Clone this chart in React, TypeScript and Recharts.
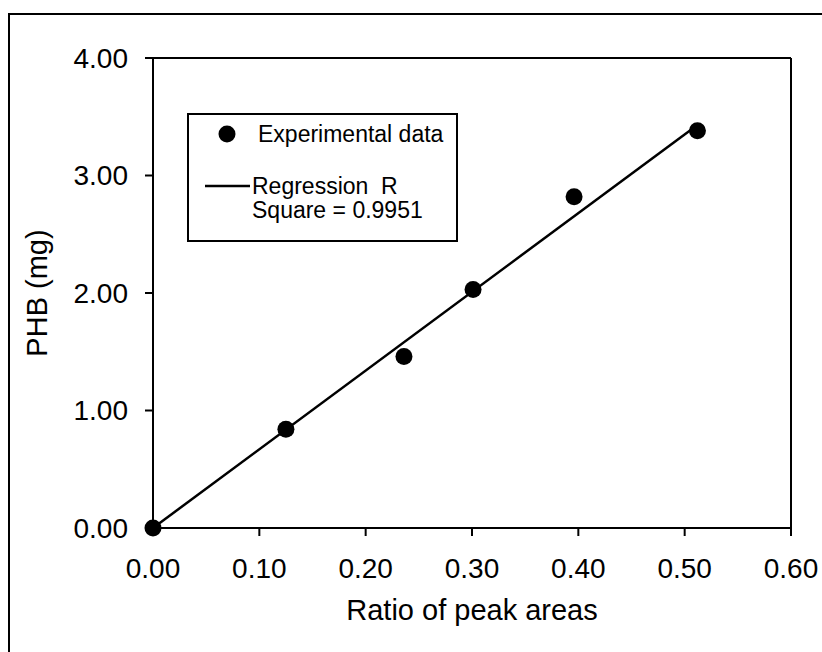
import React from "react";
import {
  ScatterChart,
  Scatter,
  XAxis,
  YAxis,
  ReferenceLine,
  Legend,
} from "recharts";

const ratioValues = [0, 0.125, 0.236, 0.301, 0.396, 0.512];
const phbValues = [0, 0.84, 1.46, 2.03, 2.82, 3.38];

// Regression line end points (through origin)
const fitRatio = [0, 0.512];
const fitPhb = [0, 3.43];

const xTicks = [0, 0.1, 0.2, 0.3, 0.4, 0.5, 0.6];
const yTicks = [0, 1, 2, 3, 4];

const expData = ratioValues.map((x, i) => ({ x, y: phbValues[i] }));
const fitData = fitRatio.map((x, i) => ({ x, y: fitPhb[i] }));

const FONT = "'Liberation Sans', Arial, Helvetica, sans-serif";

const Dot = (props: any) => {
  const { cx, cy } = props;
  if (cx == null || cy == null) return null;
  return <circle cx={cx} cy={cy} r={8.5} fill="#000" />;
};

const NoShape = () => null;

const LegendBox = () => (
  <div
    style={{
      width: 271,
      height: 129,
      boxSizing: "border-box",
      border: "2px solid #000",
      background: "#fff",
      fontFamily: FONT,
    }}
  >
    <svg width={267} height={125} style={{ display: "block" }}>
      <circle cx={38} cy={19} r={8.5} fill="#000" />
      <text x={69} y={19} fontSize={23} fill="#000" dominantBaseline="central">
        Experimental data
      </text>
      <line x1={16} y1={71} x2={61} y2={71} stroke="#000" strokeWidth={2.5} />
      <text x={63} y={71} fontSize={23} fill="#000" dominantBaseline="central" style={{ whiteSpace: "pre" }}>
        {"Regression  R"}
      </text>
      <text x={63} y={95} fontSize={23} fill="#000" dominantBaseline="central">
        Square = 0.9951
      </text>
    </svg>
  </div>
);

export default function App() {
  return (
    <div
      style={{
        position: "absolute",
        left: 0,
        top: 0,
        width: 822,
        height: 652,
        overflow: "hidden",
        background: "#fff",
      }}
    >
      <div
        style={{
          position: "absolute",
          left: 8,
          top: 13,
          width: 900,
          height: 700,
          border: "2px solid #000",
        }}
      />
      <div style={{ position: "absolute", left: 0, top: 0 }}>
        <ScatterChart
          width={822}
          height={652}
          margin={{ top: 58, right: 31, bottom: 32, left: 0 }}
        >
          <XAxis
            type="number"
            dataKey="x"
            domain={[0, 0.6]}
            ticks={xTicks}
            interval={0}
            tickFormatter={(v: number) => v.toFixed(2)}
            axisLine={{ stroke: "#000", strokeWidth: 2 }}
            tickLine={{ stroke: "#000", strokeWidth: 2 }}
            tickSize={8}
            tickMargin={22}
            tick={{ fill: "#000", fontSize: 28, fontFamily: FONT }}
            height={92}
            label={{
              value: "Ratio of peak areas",
              position: "insideBottom",
              offset: 0,
              fill: "#000",
              fontSize: 29,
              fontFamily: FONT,
            }}
          />
          <YAxis
            type="number"
            dataKey="y"
            domain={[0, 4]}
            ticks={yTicks}
            interval={0}
            tickFormatter={(v: number) => v.toFixed(2)}
            axisLine={{ stroke: "#000", strokeWidth: 2 }}
            tickLine={{ stroke: "#000", strokeWidth: 2 }}
            tickSize={8}
            tickMargin={17}
            tick={{ fill: "#000", fontSize: 28, fontFamily: FONT }}
            width={153}
            label={{
              value: "PHB (mg)",
              angle: -90,
              position: "insideLeft",
              offset: 37,
              fill: "#000",
              fontSize: 29,
              fontFamily: FONT,
              style: { textAnchor: "middle" },
            }}
          />
          <ReferenceLine y={4} stroke="#000" strokeWidth={2} />
          <ReferenceLine x={0.6} stroke="#000" strokeWidth={2} />
          <Legend
            layout="horizontal"
            verticalAlign="middle"
            align="center"
            content={<LegendBox />}
            wrapperStyle={{
              position: "absolute",
              left: 187,
              top: 113,
              width: 271,
              height: 129,
            }}
          />
          <Scatter
            name="Regression R Square = 0.9951"
            data={fitData}
            line={{ stroke: "#000", strokeWidth: 2.5 }}
            shape={<NoShape />}
            isAnimationActive={false}
            legendType="line"
          />
          <Scatter
            name="Experimental data"
            data={expData}
            shape={<Dot />}
            fill="#000"
            isAnimationActive={false}
          />
        </ScatterChart>
      </div>
    </div>
  );
}
